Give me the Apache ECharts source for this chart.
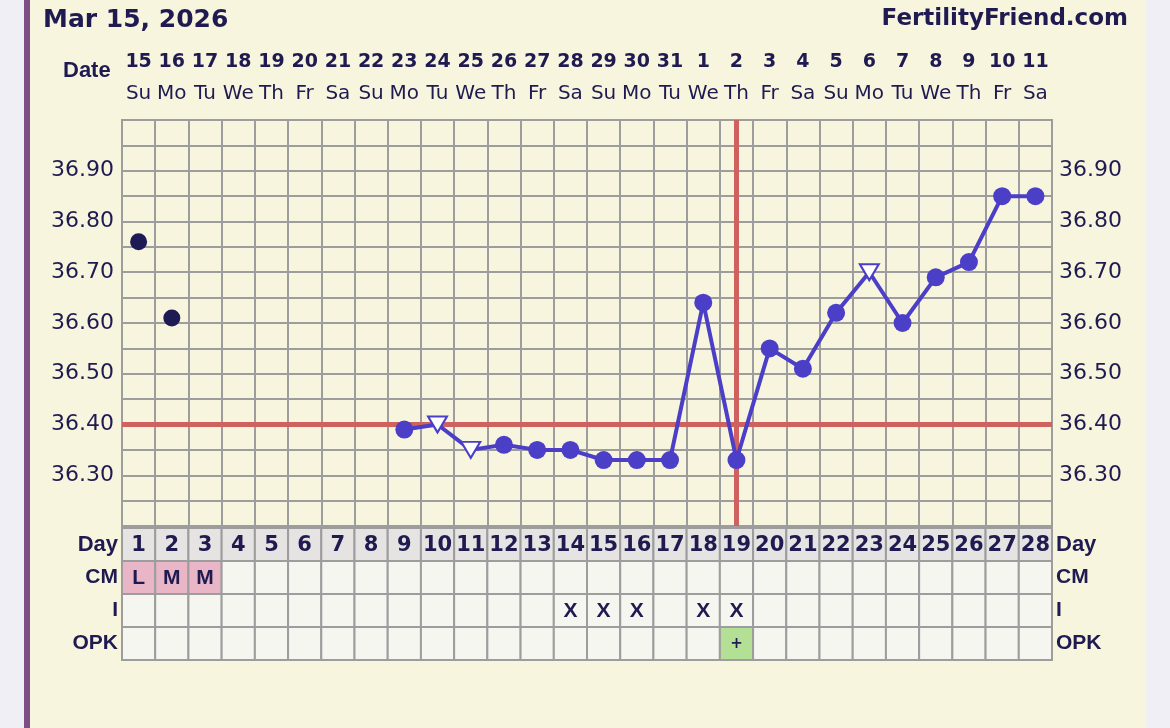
<!DOCTYPE html>
<html><head><meta charset="utf-8">
<script src="https://cdn.jsdelivr.net/npm/echarts@6/dist/echarts.min.js"></script>
<style>
html,body{margin:0;padding:0;background:#f0eff6;overflow:hidden;}
#bar{position:absolute;left:24px;top:0;width:6px;height:728px;background:#7e4e86;}
#panel{position:absolute;left:30px;top:0;width:1116px;height:728px;background:#f8f5df;}
#c{position:absolute;left:0;top:0;width:1170px;height:728px;}
</style>
</head><body><div id="bar"></div><div id="panel"></div><div id="c"></div>
<script>
// ---- data ----
const chartDate = 'Mar 15, 2026';
const siteName = 'FertilityFriend.com';
const cycleDays = ['1','2','3','4','5','6','7','8','9','10','11','12','13','14','15','16','17','18','19','20','21','22','23','24','25','26','27','28'];
const dates = ['15','16','17','18','19','20','21','22','23','24','25','26','27','28','29','30','31','1','2','3','4','5','6','7','8','9','10','11'];
const weekdays = ['Su','Mo','Tu','We','Th','Fr','Sa','Su','Mo','Tu','We','Th','Fr','Sa','Su','Mo','Tu','We','Th','Fr','Sa','Su','Mo','Tu','We','Th','Fr','Sa'];
const temps = [36.76, 36.61, null, null, null, null, null, null, 36.39, 36.40, 36.35, 36.36, 36.35, 36.35, 36.33, 36.33, 36.33, 36.64, 36.33, 36.55, 36.51, 36.62, 36.70, 36.60, 36.69, 36.72, 36.85, 36.85];
const unconnectedDays = [1, 2];
const openTriangleDays = [10, 11, 23];
const coverline = 36.40;
const ovulationDay = 19;
const yTickLabels = ['36.30','36.40','36.50','36.60','36.70','36.80','36.90'];
const tableRows = ['Day','CM','I','OPK'];
const cervicalMucus = ['L','M','M','','','','','','','','','','','','','','','','','','','','','','','','',''];
const intercourseDays = [14, 15, 16, 18, 19];
const opkPositiveDays = [19];

// ---- styles ----
const NAVY = '#1f1a50';
const BLUE = '#4b3ec7';
const RED = '#cf625e';
const GRIDC = '#9d9d9d';

const lineData = temps.map((t, i) => {
  const d = i + 1;
  if (t === null || unconnectedDays.includes(d)) return null;
  if (openTriangleDays.includes(d)) {
    return {value: t, symbol: 'triangle', symbolRotate: 180, symbolSize: [19, 16],
      itemStyle: {color: '#ffffff', borderColor: BLUE, borderWidth: 2}};
  }
  return {value: t};
});
const earlyData = temps.map((t, i) => unconnectedDays.includes(i + 1) ? t : null);

const cells = [];
tableRows.forEach((row, r) => {
  cycleDays.forEach((day, d) => {
    const dn = d + 1;
    let text = '', fill = '#f6f6f1', font = 'bold 21px "Liberation Sans", sans-serif';
    if (row === 'Day') { text = day; fill = '#e5e4e2'; font = 'bold 21px "DejaVu Sans", sans-serif'; }
    if (row === 'CM' && cervicalMucus[d]) { text = cervicalMucus[d]; fill = '#e8b6c6'; }
    if (row === 'I' && intercourseDays.includes(dn)) { text = 'X'; }
    if (row === 'OPK' && opkPositiveDays.includes(dn)) { text = '+'; fill = '#b4e096'; font = 'bold 15px "DejaVu Sans", sans-serif'; }
    cells.push({value: [d, r], text, fill, font});
  });
});

const chart = echarts.init(document.getElementById('c'), null, {renderer: 'canvas'});
const option = {
  animation: false,
  backgroundColor: 'transparent',
  graphic: [
    {type: 'text', left: 43, top: 8, style: {text: chartDate, fill: NAVY, font: 'bold 25px "DejaVu Sans", sans-serif'}},
    {type: 'text', right: 42, top: 8, style: {text: siteName, fill: NAVY, font: 'bold 23px "DejaVu Sans", sans-serif'}},
    {type: 'text', left: 63, top: 60, style: {text: 'Date', fill: NAVY, font: 'bold 22px "Liberation Sans", sans-serif'}}
  ],
  grid: [
    {left: 122, top: 120, width: 930, height: 406, show: true, backgroundColor: '#f8f5df', borderColor: GRIDC, borderWidth: 2},
    {left: 122, top: 528, width: 930, height: 132, show: false}
  ],
  xAxis: [
    {type: 'category', gridIndex: 0, data: cycleDays, position: 'top', boundaryGap: true,
      axisLine: {show: false}, axisTick: {show: false},
      splitLine: {show: true, lineStyle: {color: GRIDC, width: 2}},
      axisLabel: {interval: 0, margin: 10, verticalAlign: 'bottom',
        formatter: (v, i) => '{d|' + dates[i] + '}\n{w|' + weekdays[i] + '}',
        rich: {
          d: {fontFamily: '"DejaVu Sans", sans-serif', fontWeight: 'bold', fontSize: 19, color: NAVY, lineHeight: 32},
          w: {fontFamily: '"DejaVu Sans", sans-serif', fontSize: 20, color: NAVY, lineHeight: 32}
        }}},
    {type: 'category', gridIndex: 1, data: cycleDays, show: false}
  ],
  yAxis: [
    {type: 'value', gridIndex: 0, min: 36.2, max: 37.0, interval: 0.05, position: 'left',
      axisLine: {show: false}, axisTick: {show: false},
      splitLine: {show: true, lineStyle: {color: GRIDC, width: 2}},
      axisLabel: {margin: 8, color: NAVY, fontSize: 22, fontFamily: '"DejaVu Sans", sans-serif',
        formatter: v => { const s = v.toFixed(2); return yTickLabels.includes(s) ? s : ''; }}},
    {type: 'value', gridIndex: 0, min: 36.2, max: 37.0, interval: 0.05, position: 'right',
      axisLine: {show: false}, axisTick: {show: false}, splitLine: {show: false},
      axisLabel: {margin: 7, color: NAVY, fontSize: 22, fontFamily: '"DejaVu Sans", sans-serif',
        formatter: v => { const s = v.toFixed(2); return yTickLabels.includes(s) ? s : ''; }}},
    {type: 'category', gridIndex: 1, data: tableRows, inverse: true, position: 'left',
      axisLine: {show: false}, axisTick: {show: false}, splitLine: {show: false},
      axisLabel: {margin: 4, formatter: v => v === 'Day' ? '{a|Day}' : '{b|' + v + '}',
        rich: {a: {fontFamily: '"Liberation Sans", sans-serif', fontWeight: 'bold', fontSize: 22, color: NAVY},
               b: {fontFamily: '"Liberation Sans Narrow", "Liberation Sans", sans-serif', fontWeight: 'bold', fontSize: 21, color: NAVY}}}},
    {type: 'category', gridIndex: 1, data: tableRows, inverse: true, position: 'right',
      axisLine: {show: false}, axisTick: {show: false}, splitLine: {show: false},
      axisLabel: {margin: 4, formatter: v => v === 'Day' ? '{a|Day}' : '{b|' + v + '}',
        rich: {a: {fontFamily: '"Liberation Sans", sans-serif', fontWeight: 'bold', fontSize: 22, color: NAVY},
               b: {fontFamily: '"Liberation Sans Narrow", "Liberation Sans", sans-serif', fontWeight: 'bold', fontSize: 21, color: NAVY}}}}
  ],
  series: [
    {type: 'scatter', xAxisIndex: 0, yAxisIndex: 0, data: earlyData, symbol: 'circle', symbolSize: 17,
      itemStyle: {color: '#1d1a54', opacity: 1}, z: 2, silent: true,
      markLine: {silent: true, z: 1, symbol: 'none', label: {show: false},
        lineStyle: {color: RED, width: 5, type: 'solid', opacity: 1},
        data: [{yAxis: coverline}, {xAxis: cycleDays[ovulationDay - 1]}]}},
    {type: 'line', xAxisIndex: 0, yAxisIndex: 0, data: lineData, connectNulls: false, z: 3,
      symbol: 'circle', symbolSize: 18, showAllSymbol: true,
      lineStyle: {color: BLUE, width: 4}, itemStyle: {color: BLUE, opacity: 1}},
    {type: 'custom', xAxisIndex: 1, yAxisIndex: 2, data: cells,
      renderItem: (params, api) => {
        const c = api.coord([api.value(0), api.value(1)]);
        const s = api.size([1, 1]);
        const cell = cells[params.dataIndex];
        return {type: 'group', children: [
          {type: 'rect', shape: {x: c[0] - s[0] / 2, y: c[1] - s[1] / 2, width: s[0], height: s[1]},
            style: {fill: cell.fill, stroke: GRIDC, lineWidth: 2}},
          {type: 'text', style: {text: cell.text, x: c[0], y: c[1] + 1, align: 'center', verticalAlign: 'middle',
            textAlign: 'center', textVerticalAlign: 'middle', font: cell.font, fill: NAVY}}
        ]};
      }}
  ]
};
chart.setOption(option);
</script>
</body></html>
